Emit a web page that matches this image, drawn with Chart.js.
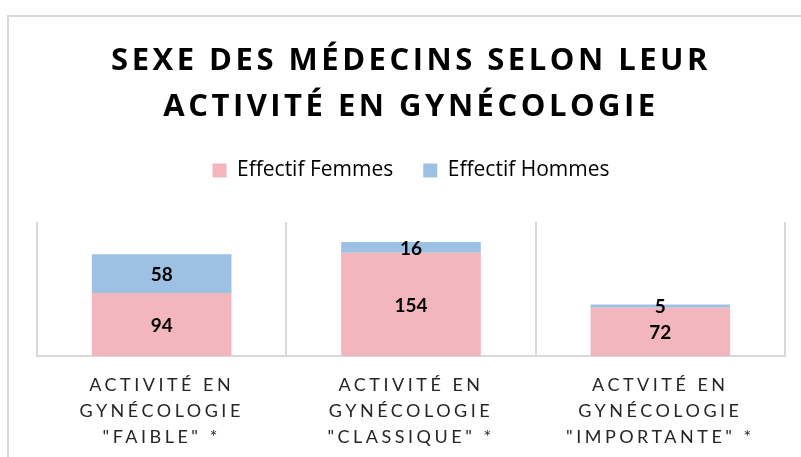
<!DOCTYPE html>
<html>
<head>
<meta charset="utf-8">
<script src="https://cdn.jsdelivr.net/npm/chart.js@4/dist/chart.umd.min.js"></script>
<style>
  html, body { margin: 0; padding: 0; background: #fff; }
  #wrap { position: relative; width: 801px; height: 457px; overflow: hidden; }
  #frame { position: absolute; left: 7px; top: 15px; width: 900px; height: 900px;
           border-left: 2px solid #d9d9d9; border-top: 2px solid #d9d9d9; pointer-events: none; }
  canvas { position: absolute; left: 0; top: 0; }
</style>
</head>
<body>
<div id="wrap">
  <canvas id="c" width="801" height="457"></canvas>
  <div id="frame"></div>
</div>
<script>
// ---- Data ----
const categories = [
  ['ACTIVITÉ EN', 'GYNÉCOLOGIE', '"FAIBLE" *'],
  ['ACTIVITÉ EN', 'GYNÉCOLOGIE', '"CLASSIQUE" *'],
  ['ACTVITÉ EN', 'GYNÉCOLOGIE', '"IMPORTANTE" *']
];
const seriesNames = ['Effectif Femmes', 'Effectif Hommes'];
const femmes = [94, 154, 72];
const hommes = [58, 16, 5];
const titleLines = ['SEXE DES MÉDECINS SELON LEUR', 'ACTIVITÉ EN GYNÉCOLOGIE'];

// ---- Plugins ----
function wrapSpacing(box, sp) {
  if (!box || box._spWrapped) return;
  const orig = box.draw;
  box.draw = function (area) {
    const ctx = this.ctx;
    ctx.save();
    ctx.letterSpacing = sp;
    orig.call(this, area);
    ctx.restore();
  };
  box._spWrapped = true;
}
function wrapLegendFit(legend, extra) {
  if (!legend || legend._fitWrapped) return;
  const orig = legend.fit;
  legend.fit = function () {
    orig.call(this);
    this.height += extra;
  };
  legend._fitWrapped = true;
}
const spacingPlugin = {
  id: 'spacing',
  beforeLayout(chart) {
    wrapSpacing(chart.titleBlock, '3.5px');
    wrapSpacing(chart.scales.x, '3.5px');
    wrapLegendFit(chart.legend, 31);
  }
};
const valueLabels = {
  id: 'valueLabels',
  afterDatasetsDraw(chart) {
    const ctx = chart.ctx;
    ctx.save();
    ctx.font = 'bold 19px Lato';
    ctx.fillStyle = '#000';
    ctx.textAlign = 'center';
    ctx.textBaseline = 'middle';
    chart.data.datasets.forEach((ds, i) => {
      const meta = chart.getDatasetMeta(i);
      meta.data.forEach((bar, j) => {
        const p = bar.getProps(['x', 'y', 'base'], true);
        ctx.fillText(String(ds.data[j]), p.x, (p.y + p.base) / 2 + 1);
      });
    });
    ctx.restore();
  }
};

new Chart(document.getElementById('c'), {
  type: 'bar',
  data: {
    labels: categories,
    datasets: [
      { label: seriesNames[0], data: femmes, backgroundColor: '#F2B6BC' },
      { label: seriesNames[1], data: hommes, backgroundColor: '#9DC1E3' }
    ]
  },
  options: {
    responsive: false,
    animation: false,
    devicePixelRatio: 1,
    layout: { padding: { left: 37, right: 16, top: 0, bottom: 0 } },
    datasets: { bar: { categoryPercentage: 1, barPercentage: 0.56 } },
    plugins: {
      title: {
        display: true,
        text: titleLines,
        color: '#000',
        font: { family: '"Open Sans"', size: 31, weight: 'bold', lineHeight: 46 / 31 },
        padding: { top: 38, bottom: 0 }
      },
      legend: {
        display: true,
        position: 'top',
        labels: {
          color: '#000',
          font: { family: '"Open Sans"', size: 21 },
          boxWidth: 14,
          boxHeight: 14,
          padding: 30
        }
      },
      tooltip: { enabled: false }
    },
    scales: {
      x: {
        stacked: true,
        grid: { display: true, color: '#d9d9d9', lineWidth: 2, drawTicks: false, offset: true },
        border: { display: true, color: '#d9d9d9', width: 2 },
        ticks: {
          color: '#262626',
          font: { family: 'Lato', size: 18, lineHeight: 26 / 18 },
          padding: 16,
          maxRotation: 0,
          autoSkip: false
        },
        afterFit(scale) { scale.height = 101; }
      },
      y: {
        stacked: true,
        display: false,
        min: 0,
        max: 200
      }
    }
  },
  plugins: [spacingPlugin, valueLabels]
});
</script>
</body>
</html>
